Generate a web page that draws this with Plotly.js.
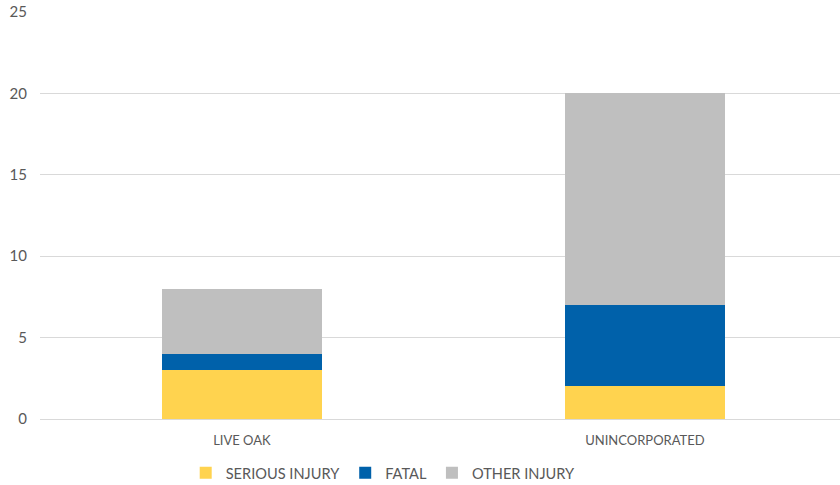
<!DOCTYPE html>
<html><head><meta charset="utf-8">
<script src="https://cdn.plot.ly/plotly-3.0.1.min.js"></script>
<style>body{margin:0}#c{width:840px;height:485px}</style>
</head><body><div id="c"></div>
<script>
const categories = ["LIVE OAK", "UNINCORPORATED"];
const seriousInjury = [3, 2];
const fatal = [1, 5];
const otherInjury = [4, 13];
const yTicks = [0, 5, 10, 15, 20, 25];

const font = {family: "Lato, 'Open Sans', sans-serif", size: 14, color: "#595959"};
const mk = (name, y, color) => ({
  type: "bar", name: name, x: categories, y: y, width: 0.397,
  marker: {color: color, line: {width: 0}}, hoverinfo: "skip"
});
const data = [
  mk("SERIOUS INJURY", seriousInjury, "#FFD34F"),
  mk("FATAL", fatal, "#0061AA"),
  mk("OTHER INJURY", otherInjury, "#BFBFBF")
];
const layout = {
  width: 840, height: 485, barmode: "stack",
  margin: {l: 40, r: 0, t: 12, b: 66, autoexpand: false},
  paper_bgcolor: "#fff", plot_bgcolor: "#fff",
  font: font,
  xaxis: {type: "category", range: [-0.501, 1.484], showgrid: false, showline: true,
          linecolor: "#D9D9D9", linewidth: 1, ticks: "", tickfont: {size: 13},
          ticklabelstandoff: 9, automargin: false},
  yaxis: {range: [0, 25], tickvals: yTicks, showgrid: true, gridcolor: "#D9D9D9",
          gridwidth: 1, zeroline: false, showline: false, ticks: "",
          ticklabelstandoff: 12, tickfont: {size: 15}, automargin: false},
  legend: {orientation: "h", x: 0.429, xanchor: "center", y: -0.093, yanchor: "top",
           font: {size: 14.6}, traceorder: "normal"},
  showlegend: true
};
Plotly.newPlot("c", data, layout, {displayModeBar: false, staticPlot: true});
</script></body></html>
